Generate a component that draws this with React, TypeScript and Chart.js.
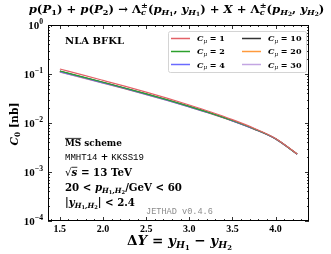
import React, { useEffect, useRef } from "react";
import { Chart, registerables } from "chart.js";
Chart.register(...registerables);

// ---------------- data ----------------
const deltaY = [1.5, 1.75, 2.0, 2.25, 2.5, 2.75, 3.0, 3.25, 3.5, 3.75, 4.0, 4.25];
const cmu1 = [0.1265, 0.0971, 0.0741, 0.0564, 0.0426, 0.0318, 0.0233, 0.01675, 0.0117, 0.00783, 0.00485, 0.00233];
const cmu2 = [0.1151, 0.0886, 0.068, 0.0519, 0.0394, 0.0296, 0.0219, 0.0159, 0.01123, 0.00761, 0.00478, 0.00232];
const cmu4 = [0.1111, 0.0857, 0.0659, 0.0505, 0.0384, 0.0289, 0.0214, 0.0156, 0.01107, 0.00752, 0.00474, 0.00231];
const cmu10 = [0.1141, 0.088, 0.0674, 0.0516, 0.0392, 0.0295, 0.0218, 0.01585, 0.0112, 0.0076, 0.00477, 0.00232];
const cmu20 = [0.1104, 0.0852, 0.0655, 0.0502, 0.0382, 0.0288, 0.0213, 0.01556, 0.01103, 0.00751, 0.00474, 0.00231];
const cmu30 = [0.1095, 0.0846, 0.0651, 0.0499, 0.038, 0.0286, 0.0212, 0.0155, 0.011, 0.00749, 0.00473, 0.00231];
const cmuLabels = ["1", "2", "4", "10", "20", "30"];
const xTickValues = [1.5, 2.0, 2.5, 3.0, 3.5, 4.0];
const xTickLabels = ["1.5", "2.0", "2.5", "3.0", "3.5", "4.0"];
const yTickExponents = [0, -1, -2, -3, -4];

// ---------------- styles ----------------
const seriesColors = ["#e36167", "#2ca02c", "#6a6aff", "#333333", "#ff9a3c", "#c3a5e2"];

type Seg = { t: string; f?: string; l?: number; st?: boolean; ov?: boolean; c?: string };
const SERIF = '"DejaVu Serif", "Liberation Serif", serif';
const TSERIF = '"Liberation Serif", "DejaVu Serif", serif';
const MONO = '"Liberation Mono", "DejaVu Sans Mono", monospace';

function fnt(f: string, s: number) {
  switch (f) {
    case "bi": return `italic bold ${s}px ${SERIF}`;
    case "i": return `italic ${s}px ${SERIF}`;
    case "m": return `${s}px ${MONO}`;
    case "r": return `${s}px ${SERIF}`;
    case "tb": return `bold ${s}px ${TSERIF}`;
    default: return `bold ${s}px ${SERIF}`;
  }
}
const lvlScale = (l: number) => (l === 1 || l === -1 ? 0.7 : l === 2 ? 0.5 : 1);
const lvlOff = (l: number, S: number) => (l === 1 ? 0.22 * S : l === 2 ? 0.34 * S : l === -1 ? -0.42 * S : 0);

function layoutRich(ctx: CanvasRenderingContext2D, segs: Seg[], S: number) {
  let x = 0;
  let prevStart = 0;
  const items: any[] = [];
  for (const sg of segs) {
    const l = sg.l || 0;
    const size = S * lvlScale(l);
    ctx.font = fnt(sg.f || "b", size);
    const w = ctx.measureText(sg.t).width;
    let sx: number;
    if (sg.st) {
      sx = prevStart;
      x = Math.max(x, sx + w);
    } else {
      sx = x;
      x = sx + w;
    }
    prevStart = sx;
    items.push({ ...sg, x: sx, size, w, dy: lvlOff(l, S) });
  }
  return { items, width: x };
}

function fitSize(ctx: CanvasRenderingContext2D, segs: Seg[], target: number) {
  const w0 = layoutRich(ctx, segs, 10).width;
  return (10 * target) / w0;
}

function drawRich(
  ctx: CanvasRenderingContext2D,
  segs: Seg[],
  x: number,
  y: number,
  S: number,
  align: string,
  color = "#000"
) {
  const { items, width } = layoutRich(ctx, segs, S);
  const x0 = align === "center" ? x - width / 2 : align === "right" ? x - width : x;
  ctx.textBaseline = "alphabetic";
  ctx.textAlign = "left";
  for (const it of items) {
    ctx.font = fnt(it.f || "b", it.size);
    ctx.fillStyle = it.c || color;
    ctx.fillText(it.t, x0 + it.x, y + it.dy);
    if (it.ov) {
      ctx.strokeStyle = it.c || color;
      ctx.lineWidth = Math.max(0.8, S * 0.08);
      const oy = y + it.dy - it.size * 0.8;
      ctx.beginPath();
      ctx.moveTo(x0 + it.x, oy);
      ctx.lineTo(x0 + it.x + it.w, oy);
      ctx.stroke();
    }
  }
}

const titleSegs: Seg[] = [
  { t: "p", f: "bi" }, { t: "(", f: "b" }, { t: "P", f: "bi" }, { t: "1", f: "b", l: 1 }, { t: ") + ", f: "b" },
  { t: "p", f: "bi" }, { t: "(", f: "b" }, { t: "P", f: "bi" }, { t: "2", f: "b", l: 1 }, { t: ") → ", f: "b" },
  { t: "Λ", f: "b" }, { t: "c", f: "bi", l: 1 }, { t: "±", f: "b", l: -1, st: true }, { t: "(", f: "b" },
  { t: "p", f: "bi" }, { t: "H", f: "bi", l: 1 }, { t: "1", f: "b", l: 2 }, { t: ", ", f: "b" },
  { t: "y", f: "bi" }, { t: "H", f: "bi", l: 1 }, { t: "1", f: "b", l: 2 }, { t: ") + ", f: "b" },
  { t: "X", f: "bi" }, { t: " + ", f: "b" },
  { t: "Λ", f: "b" }, { t: "c", f: "bi", l: 1 }, { t: "±", f: "b", l: -1, st: true }, { t: "(", f: "b" },
  { t: "p", f: "bi" }, { t: "H", f: "bi", l: 1 }, { t: "2", f: "b", l: 2 }, { t: ", ", f: "b" },
  { t: "y", f: "bi" }, { t: "H", f: "bi", l: 1 }, { t: "2", f: "b", l: 2 }, { t: ")", f: "b" },
];
const yTitleSegs: Seg[] = [{ t: "C", f: "bi" }, { t: "0", f: "b", l: 1 }, { t: " [nb]", f: "b" }];
const xTitleSegs: Seg[] = [
  { t: "Δ", f: "b" }, { t: "Y", f: "bi" }, { t: " = ", f: "b" },
  { t: "y", f: "bi" }, { t: "H", f: "bi", l: 1 }, { t: "1", f: "b", l: 2 }, { t: " − ", f: "b" },
  { t: "y", f: "bi" }, { t: "H", f: "bi", l: 1 }, { t: "2", f: "b", l: 2 },
];
const annotations: { segs: Seg[]; x: number; y: number; w: number }[] = [
  { segs: [{ t: "NLA BFKL", f: "b" }], x: 65, y: 44, w: 59 },
  { segs: [{ t: "MS", f: "b", ov: true }, { t: " scheme", f: "b" }], x: 65, y: 145.5, w: 57 },
  { segs: [{ t: "MMHT14", f: "m" }, { t: " + ", f: "b" }, { t: "KKSS19", f: "m" }], x: 65, y: 160, w: 79 },
  { segs: [{ t: "√", f: "r" }, { t: "s", f: "bi", ov: true }, { t: " = 13 TeV", f: "b" }], x: 65, y: 175.5, w: 67 },
  {
    segs: [
      { t: "20 < ", f: "b" }, { t: "p", f: "bi" }, { t: "H", f: "bi", l: 1 }, { t: "1", f: "b", l: 2 },
      { t: ",", f: "b", l: 1 }, { t: "H", f: "bi", l: 1 }, { t: "2", f: "b", l: 2 }, { t: "/GeV < 60", f: "b" },
    ],
    x: 65, y: 191, w: 117,
  },
  {
    segs: [
      { t: "|", f: "b" }, { t: "y", f: "bi" }, { t: "H", f: "bi", l: 1 }, { t: "1", f: "b", l: 2 },
      { t: ",", f: "b", l: 1 }, { t: "H", f: "bi", l: 1 }, { t: "2", f: "b", l: 2 }, { t: "| < 2.4", f: "b" },
    ],
    x: 65, y: 206, w: 70,
  },
  { segs: [{ t: "JETHAD v0.4.6", f: "m", c: "#8c8c8c" }], x: 146, y: 214, w: 67 },
];

const overlay = {
  id: "overlay",
  afterDatasetsDraw(chart: any) {
    const ctx: CanvasRenderingContext2D = chart.ctx;
    const { left, right, top, bottom } = chart.chartArea;
    const xs = chart.scales.x;
    const ys = chart.scales.y;
    ctx.save();

    // frame
    ctx.strokeStyle = "#000";
    ctx.lineWidth = 1;
    ctx.strokeRect(left + 0.5, top + 0.5, right - left - 1, bottom - top - 1);

    // ticks
    const xt = (v: number, L: number) => {
      const p = Math.round(xs.getPixelForValue(v)) + 0.5;
      ctx.beginPath();
      ctx.moveTo(p, bottom); ctx.lineTo(p, bottom - L);
      ctx.moveTo(p, top); ctx.lineTo(p, top + L);
      ctx.stroke();
    };
    const yt = (v: number, L: number) => {
      const p = Math.round(ys.getPixelForValue(v)) + 0.5;
      ctx.beginPath();
      ctx.moveTo(left, p); ctx.lineTo(left + L, p);
      ctx.moveTo(right, p); ctx.lineTo(right - L, p);
      ctx.stroke();
    };
    ctx.lineWidth = 0.8;
    for (let i = 14; i <= 43; i++) if (i % 5 !== 0) xt(i / 10, 2);
    for (const v of xTickValues) xt(v, 4);
    for (const e of yTickExponents) {
      yt(Math.pow(10, e), 4);
      if (e > -4) for (let m = 2; m <= 9; m++) yt(m * Math.pow(10, e - 1), 2);
    }

    // tick labels
    xTickValues.forEach((v, i) => {
      drawRich(ctx, [{ t: xTickLabels[i], f: "tb" }], xs.getPixelForValue(v), 232, 10, "center");
    });
    for (const e of yTickExponents) {
      const py = ys.getPixelForValue(Math.pow(10, e));
      const ex = e === 0 ? "0" : "−" + String(-e);
      drawRich(ctx, [{ t: "10", f: "tb" }, { t: ex, f: "tb", l: -1 }], 43, py + 3.5, 11, "right");
    }

    // title
    drawRich(ctx, titleSegs, 176.5, 12.5, fitSize(ctx, titleSegs, 296), "center");
    // x title
    drawRich(ctx, xTitleSegs, 179.5, 245, fitSize(ctx, xTitleSegs, 105), "center");
    // y title
    ctx.save();
    ctx.translate(18, 124);
    ctx.rotate(-Math.PI / 2);
    drawRich(ctx, yTitleSegs, 0, 0, fitSize(ctx, yTitleSegs, 43), "center");
    ctx.restore();

    // annotations
    for (const a of annotations) drawRich(ctx, a.segs, a.x, a.y, fitSize(ctx, a.segs, a.w), "left");

    // legend
    const bx = 168.5, by = 31.5, bw = 138, bh = 41;
    ctx.fillStyle = "rgba(255,255,255,0.85)";
    ctx.strokeStyle = "#d4d4d4";
    ctx.lineWidth = 1;
    ctx.beginPath();
    (ctx as any).roundRect(bx, by, bw, bh, 2);
    ctx.fill();
    ctx.stroke();
    const rows = [37.5, 50.8, 64];
    const lineX = [171, 242];
    const textX = [197, 268];
    const legSegs = (lab: string): Seg[] => [{ t: "C", f: "bi" }, { t: "μ", f: "i", l: 1 }, { t: " = " + lab, f: "b" }];
    const legS = fitSize(ctx, legSegs("1"), 28);
    cmuLabels.forEach((lab, i) => {
      const col = Math.floor(i / 3);
      const row = i % 3;
      const ry = rows[row];
      ctx.strokeStyle = seriesColors[i];
      ctx.lineWidth = 1.5;
      ctx.beginPath();
      ctx.moveTo(lineX[col], Math.round(ry) + 0.5);
      ctx.lineTo(lineX[col] + 19, Math.round(ry) + 0.5);
      ctx.stroke();
      drawRich(ctx, legSegs(lab), textX[col], ry + 3.5, legS, "left");
    });

    ctx.restore();
  },
};

export default function App() {
  const ref = useRef<HTMLCanvasElement>(null);
  useEffect(() => {
    const series = [cmu1, cmu2, cmu4, cmu10, cmu20, cmu30];
    const chart = new Chart(ref.current as HTMLCanvasElement, {
      type: "line",
      data: {
        datasets: series.map((s, i) => ({
          label: "C_mu = " + cmuLabels[i],
          data: deltaY.map((x, j) => ({ x, y: s[j] })),
          borderColor: seriesColors[i],
          borderWidth: 1.2,
          pointRadius: 0,
          fill: false,
          tension: 0.4,
          cubicInterpolationMode: "monotone" as const,
        })),
      },
      options: {
        animation: false,
        responsive: false,
        devicePixelRatio: 1,
        layout: { padding: { left: 48, top: 25, right: 22, bottom: 33 } },
        scales: {
          x: { type: "linear", display: false, min: 1.3625, max: 4.3875 },
          y: { type: "logarithmic", display: false, min: 1e-4, max: 1 },
        },
        plugins: { legend: { display: false }, tooltip: { enabled: false }, title: { display: false } },
        events: [],
      },
      plugins: [overlay],
    } as any);
    return () => chart.destroy();
  }, []);
  return (
    <div style={{ position: "absolute", left: 0, top: 0, width: 331, height: 254, background: "#fff" }}>
      <canvas ref={ref} width={331} height={254} style={{ display: "block", width: 331, height: 254 }} />
    </div>
  );
}
